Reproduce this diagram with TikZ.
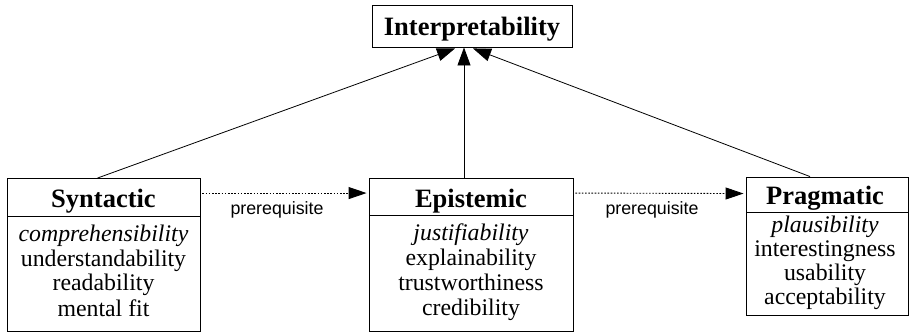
\documentclass[tikz,border=0pt]{standalone}
\usepackage{fontspec}
\setmainfont{Liberation Serif}
\setsansfont{Liberation Sans}
\usetikzlibrary{arrows.meta}
\begin{document}
\begin{tikzpicture}[x=1pt,y=-1pt,
  box/.style={draw, line width=0.9pt, inner sep=0pt},
  ttl/.style={anchor=base, inner sep=0pt, font=\fontsize{26.5}{30}\selectfont\bfseries},
  itm/.style={anchor=base, inner sep=0pt, font=\fontsize{23.8}{28}\selectfont},
  lbl/.style={anchor=base, inner sep=0pt, font=\sffamily\fontsize{17.8}{20}\selectfont},
  up/.style={line width=0.8pt, -{Triangle[length=18pt,width=13pt]}},
  pre/.style={line width=0.9pt, dash pattern=on 1.6pt off 1.6pt, -{Triangle[length=18pt,width=12pt]}, shorten >=2pt},
  sep/.style={line width=0.9pt}
]
\useasboundingbox (0,0) rectangle (909,332);

% Interpretability
\node[box, minimum width=200pt, minimum height=42pt] (int) at (472,26) {};
\node[ttl] (intT) at (472,35) {Interpretability};

% Syntactic
\node[box, minimum width=193pt, minimum height=153pt] (syn) at (103.5,255) {};
\draw[sep] (7,216) -- (200,216);
\node[ttl] (synT) at (103.5,207) {Syntactic};
\node[itm] (syn1) at (103.5,241) {\itshape comprehensibility};
\node[itm] (syn2) at (103.5,266) {understandability};
\node[itm] (syn3) at (103.5,290.5) {readability};
\node[itm] (syn4) at (103.5,316) {mental fit};

% Epistemic
\node[box, minimum width=204pt, minimum height=153pt] (epi) at (471,255) {};
\draw[sep] (369,215) -- (573,215);
\node[ttl] (epiT) at (471,207) {Epistemic};
\node[itm] (epi1) at (471,240) {\itshape justifiability};
\node[itm] (epi2) at (471,265) {explainability};
\node[itm] (epi3) at (471,290) {trustworthiness};
\node[itm] (epi4) at (471,315.5) {credibility};

% Pragmatic
\node[box, minimum width=162pt, minimum height=138pt] (pra) at (827,246) {};
\draw[sep] (746,212.5) -- (908,212.5);
\node[ttl] (praT) at (825,204) {Pragmatic};
\node[itm] (pra1) at (825,232) {\itshape plausibility};
\node[itm] (pra2) at (825,256) {interestingness};
\node[itm] (pra3) at (825,280) {usability};
\node[itm] (pra4) at (825,304) {acceptability};

% arrows up
\draw[up] ([xshift=-6pt]syn.north) -- ([xshift=-17pt,yshift=-1pt]int.south);
\draw[up] ([xshift=-7pt]epi.north) -- ([xshift=-8pt]int.south);
\draw[up] ([xshift=-17pt]pra.north) -- ([xshift=1pt,yshift=-1pt]int.south);

% prerequisite arrows
\draw[pre] ([xshift=2pt,yshift=-15pt]syn.north east) -- ([yshift=-15pt]epi.north west);
\draw[pre] ([xshift=2pt,yshift=-15pt]epi.north east) -- ([yshift=-17pt]pra.north west);
\node[lbl] (p1) at (277,214) {prerequisite};
\node[lbl] (p2) at (652,214) {prerequisite};
\end{tikzpicture}
\end{document}
